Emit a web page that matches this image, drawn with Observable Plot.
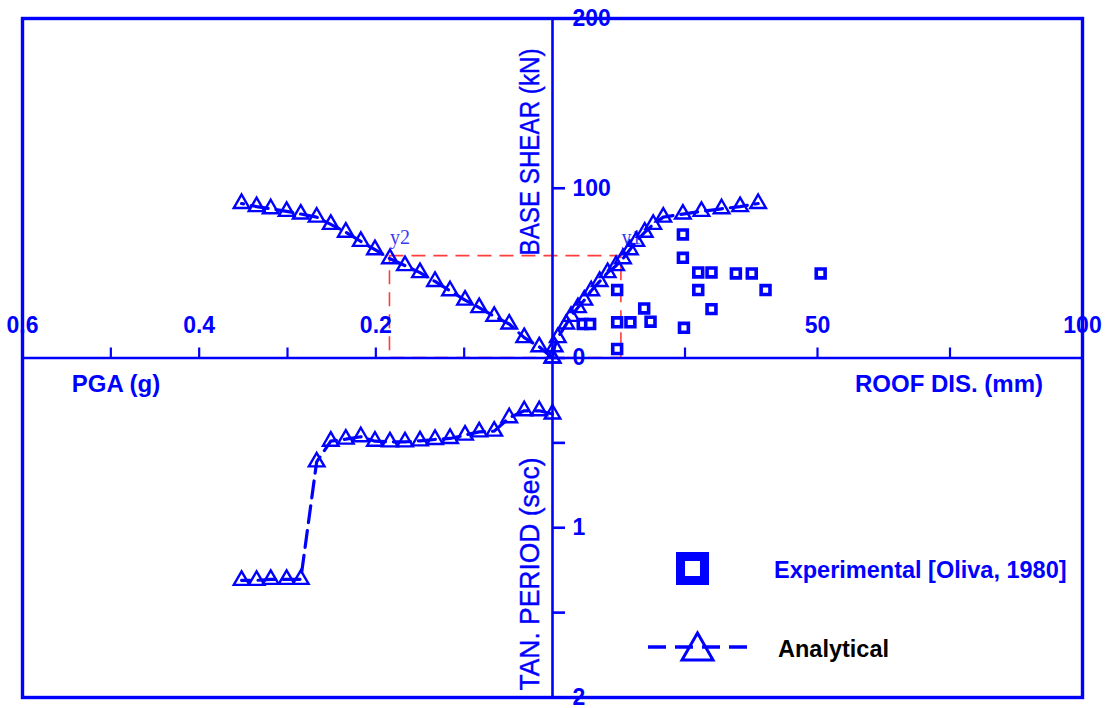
<!DOCTYPE html>
<html>
<head>
<meta charset="utf-8">
<script src="https://cdn.jsdelivr.net/npm/d3@7"></script>
<script src="https://cdn.jsdelivr.net/npm/@observablehq/plot@0.6"></script>
<style>
  html, body { margin: 0; padding: 0; background: #fff; }
  #wrap { position: relative; width: 1107px; height: 708px; overflow: hidden; }
  #legend { position: absolute; left: 630px; top: 540px; }
</style>
</head>
<body>
<div id="wrap"></div>
<script>
// ---------------- data ----------------
// analytical pushover results, ordered by increasing PGA
const pga        = [0, 0.015, 0.032, 0.049, 0.066, 0.083, 0.099, 0.116, 0.133, 0.150, 0.167, 0.184, 0.201, 0.217, 0.234, 0.251, 0.267, 0.285, 0.301, 0.319, 0.335, 0.352];
const baseShear  = [0, 6.6, 12, 20, 24.5, 29.7, 34.1, 39.6, 45.1, 50.3, 54.4, 58.5, 63.8, 68.7, 74.1, 78.7, 83.0, 84.8, 86.4, 87.9, 89.2, 91.0];
const roofDis    = [0, 0.4, 1.0, 2.6, 3.5, 4.8, 6.0, 7.3, 8.9, 10.4, 12.0, 13.3, 14.6, 15.8, 17.4, 19.0, 20.9, 24.6, 28.1, 31.9, 35.4, 38.8];
const tanPeriod  = [0.33, 0.311, 0.311, 0.352, 0.431, 0.435, 0.454, 0.474, 0.48, 0.488, 0.494, 0.494, 0.49, 0.464, 0.478, 0.49, 0.612, 1.304, 1.304, 1.304, 1.31, 1.31];
// experimental results [Oliva, 1980]
const expRoof    = [24.6, 24.6, 27.5, 30.0, 34.6, 37.6, 50.6, 12.2, 27.5, 40.2, 17.3, 30.0, 5.7, 7.1, 12.2, 14.7, 18.5, 24.8, 12.2];
const expShear   = [72.8, 59.0, 50.4, 50.4, 49.8, 49.8, 49.8, 40.0, 40.0, 40.0, 29.2, 28.8, 20.0, 20.0, 21.0, 21.0, 21.4, 17.8, 5.3];
// yield point
const yieldPGA = 0.184, yieldRoof = 13, yieldShear = 60;
// axis extents and ticks
const pgaMax = 0.6, roofMax = 100, shearMax = 200, periodMax = 2;
const pgaTicks = [0.6, 0.4, 0.2], pgaMinor = [0.5, 0.3, 0.1];
const roofTicks = [50, 100], roofMinor = [25, 75];
const shearTicks = [0, 100, 200];
const periodTicks = [1, 2], periodMinor = [0.5, 1.5];
// texts
const xLabelLeft = "PGA (g)", xLabelRight = "ROOF DIS. (mm)";
const yLabelTop = "BASE SHEAR (kN)", yLabelBottom = "TAN. PERIOD (sec)";
const legendExp = "Experimental [Oliva, 1980]", legendAna = "Analytical";

// ---------------- helpers ----------------
const blue = "#0000ff";
const red = "#ff3c3c";
const sans = "'Liberation Sans', Arial, Helvetica, sans-serif";
const serif = "'Liberation Serif', 'Times New Roman', serif";
// four-quadrant mapping onto a shared [-1, 1] scale
const X = {pga: v => -v / pgaMax, roof: v => v / roofMax};
const Y = {shear: v => v / shearMax, period: v => -v / periodMax};

const analytical = pga.map((p, i) => ({pga: p, shear: baseShear[i], roof: roofDis[i], period: tanPeriod[i]}));
const experimental = expRoof.map((r, i) => ({roof: r, shear: expShear[i]}));

const fmtX = v => v < 0 ? d3.format(".1f")(-v * pgaMax) : String(Math.round(v * roofMax));
const fmtY = v => v >= 0 ? String(Math.round(v * shearMax)) : String(Math.round(-v * periodMax));

const W = 1107, H = 708, mT = 18, mB = 11, mL = 22, mR = 25;
const cx = mL + (W - mL - mR) / 2, cy = mT + (H - mT - mB) / 2;

const lineStyle = {stroke: blue, strokeWidth: 3.2, strokeDasharray: "17,8"};
const triStyle = {symbol: "triangle", r: 5.8, stroke: blue, strokeWidth: 2.4, fill: "none"};
const tickText = {fontSize: 23, fontWeight: "bold", fontFamily: sans, fill: blue, stroke: blue};

const chart = Plot.plot({
  width: W, height: H,
  marginTop: mT, marginBottom: mB, marginLeft: mL, marginRight: mR,
  x: {domain: [-1, 1]},
  y: {domain: [-1, 1]},
  style: {background: "white", color: blue, fontFamily: sans, overflow: "visible"},
  marks: [
    // yield box
    Plot.rect([0], {x1: X.pga(yieldPGA), x2: X.roof(yieldRoof), y1: 0, y2: Y.shear(yieldShear),
      fill: "none", stroke: red, strokeWidth: 1.6, strokeDasharray: "14,8"}),
    // central axes
    Plot.ruleX([0], {stroke: blue, strokeWidth: 2.6}),
    Plot.ruleY([0], {stroke: blue, strokeWidth: 2.6}),
    // horizontal axis ticks (pointing up from the centre line)
    Plot.axisX({anchor: "top", ticks: [...pgaTicks.map(X.pga), ...roofTicks.map(X.roof)], tickFormat: fmtX,
      tickSize: 11, tickPadding: 14, dy: cy - mT, strokeWidth: 2.2, label: null, ...tickText, stroke: blue}),
    Plot.axisX({anchor: "top", ticks: [...pgaMinor.map(X.pga), ...roofMinor.map(X.roof)], tickFormat: () => "",
      tickSize: 11, dy: cy - mT, strokeWidth: 2.2, label: null, stroke: blue}),
    // vertical axis ticks (pointing right from the centre line)
    Plot.axisY({anchor: "right", ticks: [...shearTicks.map(Y.shear), ...periodTicks.map(Y.period)], tickFormat: fmtY,
      tickSize: 12, tickPadding: 8, dx: -(W - mR - cx), strokeWidth: 2.6, label: null, ...tickText, stroke: blue}),
    Plot.axisY({anchor: "right", ticks: periodMinor.map(Y.period), tickFormat: () => "",
      tickSize: 12, dx: -(W - mR - cx), strokeWidth: 2.6, label: null, stroke: blue}),
    // yield labels
    Plot.text([{x: X.pga(yieldPGA), t: "y2"}, {x: X.roof(yieldRoof), t: "y1"}], {
      x: "x", y: () => Y.shear(yieldShear), text: "t", dx: 10, dy: -19,
      fontFamily: serif, fontSize: 20, fill: "#3b3bf2"}),
    // analytical: PGA vs base shear
    Plot.line(analytical, {x: d => X.pga(d.pga), y: d => Y.shear(d.shear), ...lineStyle}),
    Plot.dot(analytical, {x: d => X.pga(d.pga), y: d => Y.shear(d.shear), ...triStyle}),
    // analytical: roof displacement vs base shear
    Plot.line(analytical, {x: d => X.roof(d.roof), y: d => Y.shear(d.shear), ...lineStyle}),
    Plot.dot(analytical, {x: d => X.roof(d.roof), y: d => Y.shear(d.shear), ...triStyle}),
    // analytical: PGA vs tangent period
    Plot.line(analytical, {x: d => X.pga(d.pga), y: d => Y.period(d.period), ...lineStyle}),
    Plot.dot(analytical, {x: d => X.pga(d.pga), y: d => Y.period(d.period), ...triStyle}),
    // experimental
    Plot.dot(experimental, {x: d => X.roof(d.roof), y: d => Y.shear(d.shear), symbol: "square", r: 5,
      stroke: blue, strokeWidth: 3.6, fill: "white"}),
    // axis titles
    Plot.text([xLabelLeft], {text: d => d, frameAnchor: "middle", dx: 115.5 - cx, dy: 384 - cy,
      fontSize: 24, fontWeight: "bold", fontFamily: sans, fill: blue}),
    Plot.text([xLabelRight], {text: d => d, frameAnchor: "middle", dx: 948.5 - cx, dy: 384 - cy,
      fontSize: 24, fontWeight: "bold", fontFamily: sans, fill: blue}),
    Plot.text([yLabelTop], {text: d => d, frameAnchor: "middle", rotate: -90, dx: 530 - cx, dy: 151.5 - cy,
      fontSize: 27, fontFamily: sans, fill: blue, stroke: blue, strokeWidth: 0.4}),
    Plot.text([yLabelBottom], {text: d => d, frameAnchor: "middle", rotate: -90, dx: 530 - cx, dy: 573.5 - cy,
      fontSize: 27, fontFamily: sans, fill: blue, stroke: blue, strokeWidth: 0.4}),
    // outer frame
    Plot.frame({stroke: blue, strokeWidth: 3.4})
  ]
});

// fit the rotated titles to the reference lengths
chart.querySelectorAll("text").forEach(t => {
  if (t.textContent === yLabelTop) { t.setAttribute("textLength", 207); t.setAttribute("lengthAdjust", "spacingAndGlyphs"); }
  if (t.textContent === yLabelBottom) { t.setAttribute("textLength", 233); t.setAttribute("lengthAdjust", "spacingAndGlyphs"); }
});

const wrap = document.getElementById("wrap");
wrap.appendChild(chart);

// legend (inside the plot area, as in the reference)
const legend = document.createElement("div");
legend.id = "legend";
legend.innerHTML = `
<svg width="470" height="140" xmlns="http://www.w3.org/2000/svg" style="overflow:visible">
  <rect x="50.5" y="16.5" width="24" height="24" fill="#fff" stroke="${blue}" stroke-width="9"/>
  <line x1="18" x2="117" y1="107" y2="107" stroke="${blue}" stroke-width="3.5" stroke-dasharray="18,9"/>
  <path d="M67.5,93 L83,120 L52,120 Z" fill="none" stroke="${blue}" stroke-width="3"/>
  <text x="144" y="37.5" font-family="${sans.replace(/'/g, "&quot;")}" font-weight="bold" font-size="23.5" fill="${blue}">${legendExp}</text>
  <text x="148" y="117" font-family="${sans.replace(/'/g, "&quot;")}" font-weight="bold" font-size="23.5" fill="#000">${legendAna}</text>
</svg>`;
wrap.appendChild(legend);
</script>
</body>
</html>
